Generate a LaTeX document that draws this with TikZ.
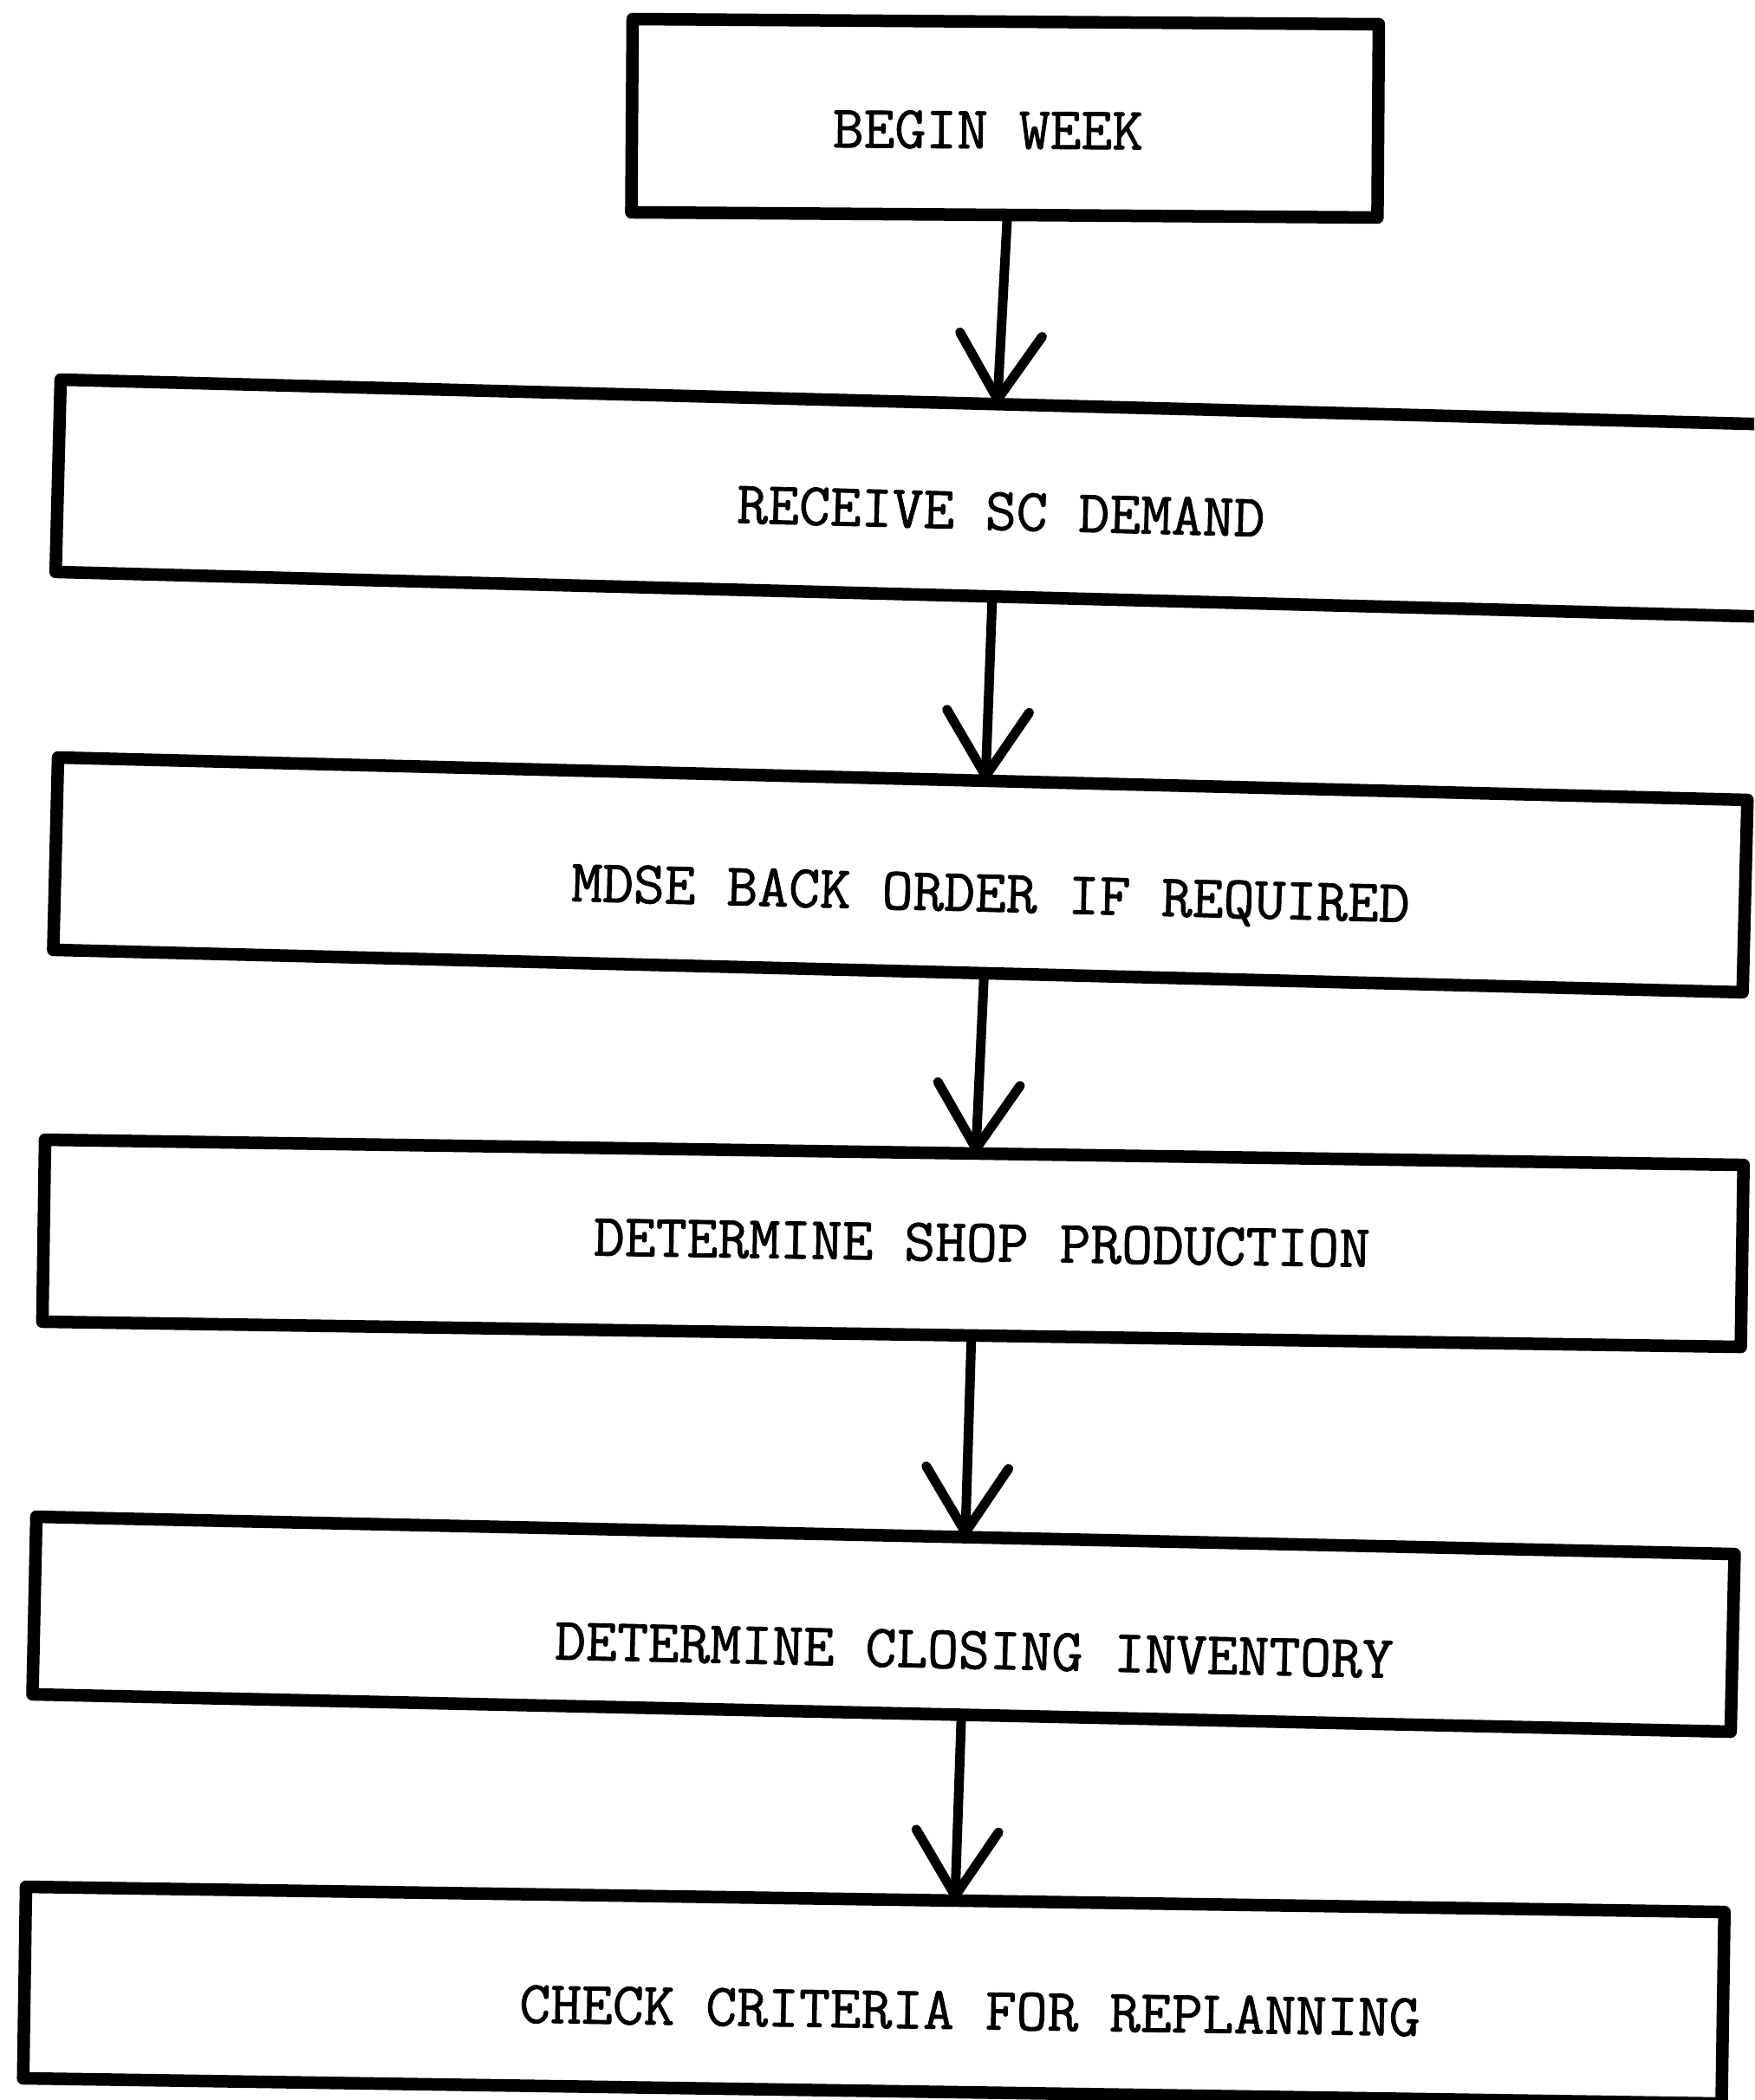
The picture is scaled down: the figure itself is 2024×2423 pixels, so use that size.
\documentclass[tikz,border=0pt]{standalone}
\usepackage{graphicx}
\usepackage{fontspec}
\usetikzlibrary{arrows.meta,calc}
\newfontfamily\typewfont{Latin Modern Mono}[FakeBold=1.2]
\begin{document}
\begin{tikzpicture}[x=0.1mm,y=-0.1mm,
  box/.style={draw=black, line width=1.45mm, inner sep=0pt, outer sep=0pt, anchor=north west, line join=round},
  lbl/.style={font=\typewfont\fontsize{19.8pt}{22pt}\selectfont, inner sep=0pt},
  flow/.style={line width=1.1mm, line cap=round, -{Straight Barb[length=7.5mm,width=9.5mm,round]}}]
\fill[white] (0,0) rectangle (2024,2423);
\clip (0,0) rectangle (2024,2423);
% boxes
\node[box, rotate=-0.4,  minimum width=86.1mm,  minimum height=22.3mm] (b1) at (730,22) {};
\node[box, rotate=-1.5,  minimum width=204mm,   minimum height=22.2mm] (b2) at (70,438) {};
\node[box, rotate=-1.44, minimum width=195mm,   minimum height=22.2mm] (b3) at (67,874) {};
\node[box, rotate=-0.85, minimum width=196mm,   minimum height=21mm]   (b4) at (52,1315) {};
\node[box, rotate=-1.26, minimum width=196mm,   minimum height=20.5mm] (b5) at (42,1750) {};
\node[box, rotate=-0.85, minimum width=196mm,   minimum height=22.1mm] (b6) at (30,2177) {};
% labels
\node[lbl, rotate=-0.4]  (t1) at (1140,150)  {BEGIN WEEK};
\node[lbl, rotate=-1.5]  (t2) at (1155,590)  {RECEIVE SC DEMAND};
\node[lbl, rotate=-1.44] (t3) at (1143,1035) {MDSE BACK ORDER IF REQUIRED};
\node[lbl, rotate=-0.85] (t4) at (1133,1434) {DETERMINE SHOP PRODUCTION};
\node[lbl, rotate=-1.26] (t5) at (1124,1904) {DETERMINE CLOSING INVENTORY};
\node[lbl, rotate=-0.85] (t6) at (1119,2320) {CHECK CRITERIA FOR REPLANNING};
% connectors
\draw[flow] ($(b1.south west)!0.504!(b1.south east)$) -- ($(b2.north west)!0.530!(b2.north east)$);
\draw[flow] ($(b2.south west)!0.530!(b2.south east)$) -- ($(b3.north west)!0.549!(b3.north east)$);
\draw[flow] ($(b3.south west)!0.551!(b3.south east)$) -- ($(b4.north west)!0.548!(b4.north east)$);
\draw[flow] ($(b4.south west)!0.547!(b4.south east)$) -- ($(b5.north west)!0.547!(b5.north east)$);
\draw[flow] ($(b5.south west)!0.547!(b5.south east)$) -- ($(b6.north west)!0.547!(b6.north east)$);
\end{tikzpicture}
\end{document}
